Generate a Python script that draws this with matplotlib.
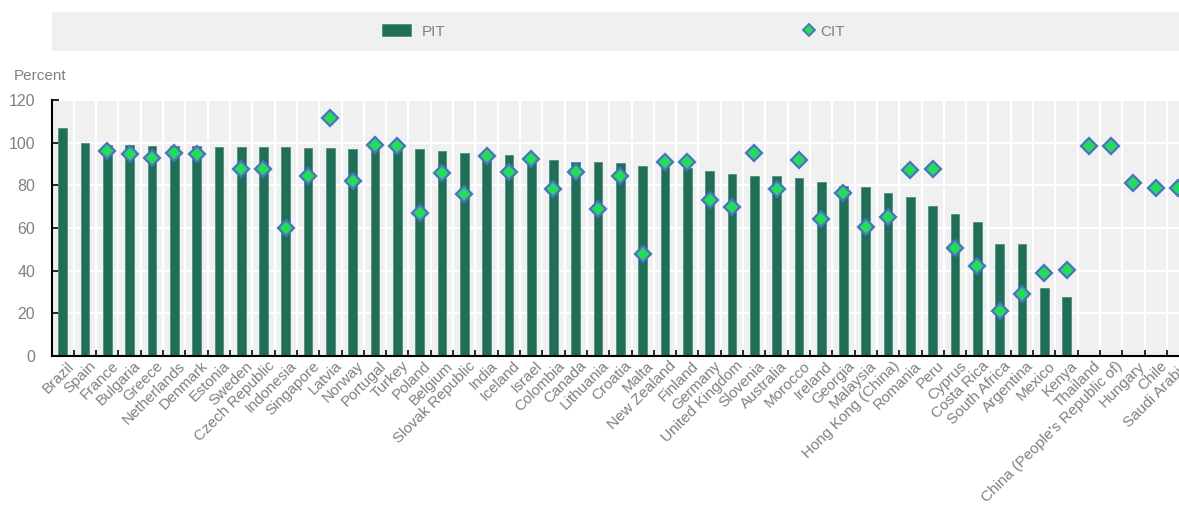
"""PIT vs CIT by country: bar + diamond marker chart."""
import numpy as np
import matplotlib
matplotlib.use("Agg")
import matplotlib.pyplot as plt
from matplotlib.patches import Rectangle
from matplotlib.lines import Line2D
from matplotlib.transforms import ScaledTranslation

countries = [
    "Brazil", "Spain", "France", "Bulgaria", "Greece", "Netherlands", "Denmark",
    "Estonia", "Sweden", "Czech Republic", "Indonesia", "Singapore", "Latvia",
    "Norway", "Portugal", "Turkey", "Poland", "Belgium", "Slovak Republic",
    "India", "Iceland", "Israel", "Colombia", "Canada", "Lithuania", "Croatia",
    "Malta", "New Zealand", "Finland", "Germany", "United Kingdom", "Slovenia",
    "Australia", "Morocco", "Ireland", "Georgia", "Malaysia", "Hong Kong (China)",
    "Romania", "Peru", "Cyprus", "Costa Rica", "South Africa", "Argentina",
    "Mexico", "Kenya", "Thailand", "China (People's Republic of)", "Hungary",
    "Chile", "Saudi Arabia",
]
nan = np.nan
pit = [
    107.0, 100.0, 99.0, 98.9, 98.6, 98.5, 98.4, 98.1, 98.1, 97.8, 97.8, 97.3,
    97.3, 96.9, 96.9, 96.9, 96.9, 96.3, 95.3, 94.8, 94.2, 93.0, 92.0, 90.9,
    90.8, 90.5, 89.2, 88.8, 88.0, 86.6, 85.3, 84.4, 84.2, 83.6, 81.6, 79.8,
    79.4, 76.6, 74.4, 70.2, 66.7, 62.7, 52.5, 52.3, 31.9, 27.8,
    nan, nan, nan, nan, nan,
]
cit = [
    nan, nan, 96.2, 94.7, 92.8, 95.3, 94.5, nan, 87.7, 87.7, 60.2, 84.4,
    111.6, 82.0, 98.9, 98.4, 66.9, 85.6, 75.9, 93.9, 86.4, 92.3, 78.4, 86.1,
    69.1, 84.5, 47.9, 91.1, 90.8, 73.3, 70.0, 95.0, 78.4, 92.0, 64.2, 76.4,
    60.3, 65.3, 87.3, 87.7, 50.5, 42.2, 21.1, 29.2, 39.1, 40.5, 98.6, 98.6,
    81.3, 78.9, 78.6,
]
yticks = [0, 20, 40, 60, 80, 100, 120]

BAR = "#1e6e58"
MK_FACE = "#22dd55"
MK_EDGE = "#4a72c4"
BG = "#f0f0f0"
TXT = "#808080"

plt.rcParams["font.family"] = "Liberation Sans"

W, H = 1179, 505
fig = plt.figure(figsize=(W / 100, H / 100), dpi=100)

# legend band
fig.patches.append(Rectangle((52 / W, 1 - 51 / H), 1 - 52 / W, 39 / H,
                             transform=fig.transFigure, facecolor=BG,
                             edgecolor="none", zorder=0))

ax = fig.add_axes([52 / W, 1 - 356 / H, 1 - 52 / W, 256 / H])
ax.set_facecolor(BG)

x = np.arange(len(countries))
bars = ax.bar(x, pit, width=0.39, color=BAR, edgecolor="#4f8f7d",
              linewidth=0.6, zorder=2, label="PIT")
ax.plot(x, cit, linestyle="none", marker="D", markersize=8.4,
        markerfacecolor=MK_FACE, markeredgecolor=MK_EDGE, markeredgewidth=1.6,
        zorder=3, clip_on=False, label="CIT")

ax.set_xlim(-0.48, 50.04)
ax.set_ylim(0, 120)
ax.set_yticks(yticks)
ax.set_xticks(x)
ax.set_xticks(np.arange(0.5, len(countries) - 1, 1), minor=True)
ax.set_axisbelow(True)
ax.grid(axis="y", which="major", color="white", linewidth=1.5)
ax.grid(axis="x", which="minor", color="white", linewidth=1.5)

for side in ["top", "right"]:
    ax.spines[side].set_visible(False)
for side in ["left", "bottom"]:
    ax.spines[side].set_color("black")
    ax.spines[side].set_linewidth(1.5)
    ax.spines[side].set_zorder(4)

ax.tick_params(axis="y", direction="in", length=5, width=1.2, color="black",
               labelcolor=TXT, labelsize=11.5, pad=12)
ax.tick_params(axis="x", which="major", length=0, labelcolor=TXT,
               labelsize=11, pad=2)
ax.tick_params(axis="x", which="minor", direction="in", length=4, width=1.2,
               color="black")

ax.set_xticklabels(countries, rotation=45, ha="right", va="top",
                   rotation_mode="anchor")
shift = ScaledTranslation(4 / 100, 0, fig.dpi_scale_trans)
for lab in ax.get_xticklabels():
    lab.set_transform(lab.get_transform() + shift)

fig.text(14 / W, 1 - 76 / H, "Percent", color=TXT, fontsize=11,
         ha="left", va="center")

# legend entries
fig.legend(handles=[bars], labels=["PIT"], loc="center left",
           bbox_to_anchor=(368 / W, 1 - 31.5 / H), frameon=False,
           fontsize=11, labelcolor=TXT, handlelength=1.9,
           handleheight=0.85, handletextpad=0.7)
cit_handle = Line2D([], [], linestyle="none", marker="D", markersize=6,
                    markerfacecolor=MK_FACE, markeredgecolor=MK_EDGE,
                    markeredgewidth=1.3)
fig.legend(handles=[cit_handle], labels=["CIT"], loc="center left",
           bbox_to_anchor=(788 / W, 1 - 31.5 / H), frameon=False,
           fontsize=11, labelcolor=TXT, handlelength=1.0, handletextpad=0.2)

fig.savefig("out.png", dpi=100)
